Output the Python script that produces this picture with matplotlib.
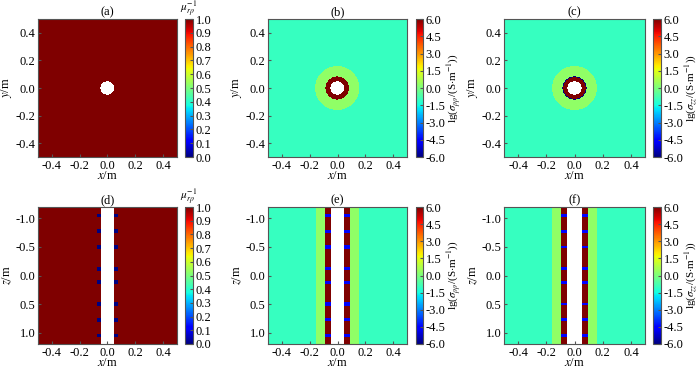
import numpy as np
import matplotlib
matplotlib.use("Agg")
import matplotlib.pyplot as plt

plt.rcParams['font.family'] = ['Liberation Serif', 'DejaVu Serif']
plt.rcParams['mathtext.fontset'] = 'stix'
plt.rcParams['axes.unicode_minus'] = False
plt.rcParams['font.size'] = 9

# model values (radii in m, conductivity as lg(S/m))
hole_r = 0.05
casing_r = 0.085
invasion_r = 0.16
sig_bg = -1.0
sig_inv = 0.3
sig_casing = 6.0
mu_bg = 1.0

collar_z = [-1.05, -0.775, -0.5, -0.12, 0.12, 0.5, 0.775, 1.05]
collar_mu = 0.0
collar_srr = -4.7
collar_szz = -4.5

titles = ['(a)', '(b)', '(c)', '(d)', '(e)', '(f)']

# grids
n = 278
xs = (np.arange(n) + 0.5) / n - 0.5
X, Y = np.meshgrid(xs, xs)
R = np.sqrt(X**2 + Y**2)
nx, nz = 140, 137
xs2 = (np.arange(nx) + 0.5) / nx - 0.5
zs = ((np.arange(nz) + 0.5) / nz - 0.5) * 2.4
XZ, Z = np.meshgrid(xs2, zs)
AX = np.abs(XZ)


def plan(inner, ring_outer_blue=False):
    g = np.full(R.shape, sig_bg)
    g[R < invasion_r] = sig_inv
    g[R < casing_r] = sig_casing
    if ring_outer_blue:
        g[(R >= casing_r - 0.006) & (R < casing_r)] = -6.0
    g[R < inner] = np.nan
    return g


def section(base, casing_val, inv_val, collar_val, cx0, cx1, ch):
    g = np.full(AX.shape, base)
    if inv_val is not None:
        g[AX < invasion_r] = inv_val
        g[AX < casing_r + 0.005] = casing_val
    for zc in collar_z:
        m = (np.abs(Z - zc) < ch / 2) & (AX >= cx0) & (AX < cx1)
        g[m] = collar_val
    g[AX < hole_r] = np.nan
    return g


mu_plan = np.full(R.shape, mu_bg)
mu_plan[R < hole_r] = np.nan
data = [
    mu_plan,
    plan(hole_r),
    plan(hole_r, True),
    section(mu_bg, None, None, collar_mu, 0.053, 0.08, 0.065),
    section(sig_bg, sig_casing, sig_inv, collar_srr, 0.05, 0.09, 0.06),
    section(sig_bg, sig_casing, sig_inv, collar_szz, 0.05, 0.09, 0.045),
]

cmap = plt.get_cmap('jet').copy()
cmap.set_bad('white')

fig = plt.figure(figsize=(7.0, 3.71), dpi=100)
W, H = 700.0, 371.0
lefts = [38, 268, 504]
widths = [139, 139, 141]
cb_lefts = [185, 416, 653]
cb_w = [8, 7, 8]
rows = [(19, 157), (207, 344)]
gray = '#555555'

for i in range(6):
    r, c = divmod(i, 3)
    top, bot = rows[r]
    ax = fig.add_axes([lefts[c] / W, (H - bot) / H, widths[c] / W, (bot - top) / H])
    if c == 0:
        vmin, vmax, cticks = 0.0, 1.0, np.arange(0, 1.01, 0.1)
    else:
        vmin, vmax, cticks = -6.0, 6.0, np.arange(-6, 6.01, 1.5)
    if r == 0:
        im = ax.imshow(data[i], extent=[-0.5, 0.5, -0.5, 0.5], origin='lower',
                       cmap=cmap, vmin=vmin, vmax=vmax, interpolation='nearest',
                       aspect='auto')
        ax.set_ylim(-0.5, 0.5)
        ax.set_yticks([-0.4, -0.2, 0, 0.2, 0.4])
        ax.set_ylabel('$y$/m', labelpad=1)
    else:
        im = ax.imshow(data[i], extent=[-0.5, 0.5, -1.2, 1.2], origin='lower',
                       cmap=cmap, vmin=vmin, vmax=vmax, interpolation='nearest',
                       aspect='auto')
        ax.set_ylim(1.2, -1.2)
        ax.set_yticks([-1.0, -0.5, 0, 0.5, 1.0])
        ax.set_ylabel('$z$/m', labelpad=1)
    ax.set_xlim(-0.5, 0.5)
    ax.set_xticks([-0.4, -0.2, 0, 0.2, 0.4])
    ax.xaxis.set_major_formatter(matplotlib.ticker.FormatStrFormatter('%.1f'))
    ax.yaxis.set_major_formatter(matplotlib.ticker.FormatStrFormatter('%.1f'))
    ax.set_xlabel('$x$/m', labelpad=-1)
    ax.set_title(titles[i], pad=3, fontsize=9)
    ax.tick_params(direction='in', length=2, color=gray, pad=2)
    for s in ax.spines.values():
        s.set_color(gray)
        s.set_linewidth(0.8)

    cax = fig.add_axes([cb_lefts[c] / W, (H - bot) / H, cb_w[c] / W, (bot - top) / H])
    cb = fig.colorbar(im, cax=cax, ticks=cticks)
    cb.ax.yaxis.set_major_formatter(matplotlib.ticker.FormatStrFormatter('%.1f'))
    cb.ax.tick_params(direction='in', length=2, color=gray, pad=2)
    cb.outline.set_edgecolor(gray)
    cb.outline.set_linewidth(0.8)
    if c == 0:
        cb.ax.set_title(r'$\mu_{r\rho}^{-1}$', fontsize=8, pad=0)
    elif c == 1:
        cb.set_label(r'lg($\sigma_{\rho\rho}$/(S$\cdot$m$^{-1}$))', fontsize=8, labelpad=0)
    else:
        cb.set_label(r'lg($\sigma_{zz}$/(S$\cdot$m$^{-1}$))', fontsize=8, labelpad=0)

fig.savefig('out.png', dpi=100)
